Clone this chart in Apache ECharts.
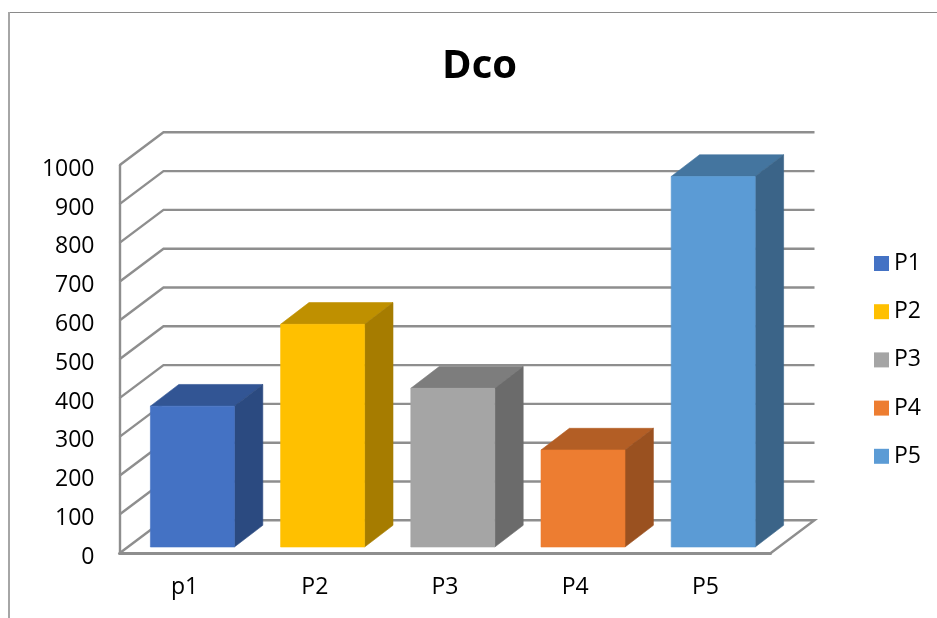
<!DOCTYPE html>
<html>
<head>
<meta charset="utf-8">
<style>html,body{margin:0;padding:0;background:#fff}#chart{width:937px;height:618px}</style>
<script src="https://cdn.jsdelivr.net/npm/echarts@6/dist/echarts.min.js"></script>
</head>
<body>
<div id="chart"></div>
<script>
// Dco values per group
const categories = ['p1', 'P2', 'P3', 'P4', 'P5'];
const seriesNames = ['P1', 'P2', 'P3', 'P4', 'P5'];
const values = [363, 574, 409, 250, 955];
const yTicks = [0, 100, 200, 300, 400, 500, 600, 700, 800, 900, 1000];

// Face colours of each 3D column
const frontColors = ['#4472C4', '#FFC000', '#A5A5A5', '#ED7D31', '#5B9BD5'];
const topColors = ['#325594', '#BF9000', '#7D7D7D', '#B35E25', '#44759F'];
const sideColors = ['#2B4A80', '#A67C00', '#6B6B6B', '#9A5120', '#3B6488'];

// Oblique projection of the chart box and of the columns inside it
const WALL_DX = 44, WALL_DY = -33;
const INSET_DX = 7.8, INSET_DY = -6.3;
const BAR_DX = 28.4, BAR_DY = -21.7;
const BAR_WIDTH = 84;
const LINE_COLOR = '#8E8E8E';
const FONT = '"Open Sans", sans-serif';

function renderWallLine(params, api) {
  const rect = params.coordSys;
  const v = api.value(1);
  const y = api.coord([0, v])[1];
  const x0 = rect.x, x1 = rect.x + rect.width;
  const points = [[x0, y], [x0 + WALL_DX, y + WALL_DY], [x1 + WALL_DX, y + WALL_DY]];
  if (v === 0) points.push([x1, y]);
  return {
    type: 'polyline',
    shape: { points },
    style: { stroke: LINE_COLOR, lineWidth: 2.4, fill: null }
  };
}

function renderColumn(i) {
  return function (params, api) {
    const p = api.coord([api.value(0), api.value(1)]);
    const base = api.coord([api.value(0), 0]);
    const left = p[0] - BAR_WIDTH / 2 + INSET_DX;
    const right = left + BAR_WIDTH;
    const top = p[1] + INSET_DY;
    const bottom = base[1] + INSET_DY;
    const face = (points, fill) => ({
      type: 'polygon',
      shape: { points },
      style: { fill, stroke: fill, lineWidth: 0.6 }
    });
    return {
      type: 'group',
      children: [
        face([[left, top], [right, top], [right + BAR_DX, top + BAR_DY], [left + BAR_DX, top + BAR_DY]], topColors[i]),
        face([[right, top], [right + BAR_DX, top + BAR_DY], [right + BAR_DX, bottom + BAR_DY], [right, bottom]], sideColors[i]),
        face([[left, top], [right, top], [right, bottom], [left, bottom]], frontColors[i])
      ]
    };
  };
}

const columnSeries = categories.map((c, i) => ({
  name: seriesNames[i],
  type: 'custom',
  coordinateSystem: 'cartesian2d',
  clip: false,
  z: 5,
  itemStyle: { color: frontColors[i] },
  encode: { x: 0, y: 1 },
  renderItem: renderColumn(i),
  data: [[i, values[i]]]
}));

const chart = echarts.init(document.getElementById('chart'), null, { renderer: 'canvas' });
chart.setOption({
  animation: false,
  backgroundColor: '#fff',
  title: {
    text: 'Dco',
    left: 474.5,
    top: 42,
    textAlign: 'center',
    textStyle: { fontFamily: FONT, fontSize: 40, fontWeight: 'bold', color: '#000' }
  },
  legend: {
    orient: 'vertical',
    left: 874,
    top: 252,
    padding: 0,
    itemWidth: 15,
    itemHeight: 15,
    itemGap: 25.2,
    icon: 'rect',
    data: seriesNames,
    selectedMode: false,
    textStyle: { fontFamily: FONT, fontSize: 23, color: '#000' }
  },
  grid: { left: 119.5, top: 165.3, width: 651, height: 388, containLabel: false },
  xAxis: {
    type: 'category',
    data: categories,
    axisLine: { show: true, lineStyle: { color: LINE_COLOR, width: 3 } },
    axisTick: { show: false },
    axisLabel: { margin: 23, fontFamily: FONT, fontSize: 23, color: '#000' },
    splitLine: { show: false }
  },
  yAxis: {
    type: 'value',
    min: 0,
    max: 1000,
    interval: 100,
    axisLine: { show: true, lineStyle: { color: LINE_COLOR, width: 2.4 } },
    axisTick: { show: false },
    axisLabel: {
      margin: 25,
      fontFamily: FONT,
      fontSize: 23,
      color: '#000',
      verticalAlign: 'top',
      lineHeight: 8,
      formatter: v => String(v)
    },
    splitLine: { show: false }
  },
  graphic: [
    { type: 'line', silent: true, shape: { x1: 9, y1: 12.5, x2: 937, y2: 12.5 }, style: { stroke: '#8A8A8A', lineWidth: 1 } },
    { type: 'line', silent: true, shape: { x1: 9, y1: 12, x2: 9, y2: 618 }, style: { stroke: '#A6A6A6', lineWidth: 2 } }
  ],
  series: [{
    name: 'wall',
    type: 'custom',
    coordinateSystem: 'cartesian2d',
    clip: false,
    silent: true,
    z: 1,
    encode: { x: 0, y: 1 },
    renderItem: renderWallLine,
    data: yTicks.map(v => [0, v])
  }].concat(columnSeries)
});
</script>
</body>
</html>
